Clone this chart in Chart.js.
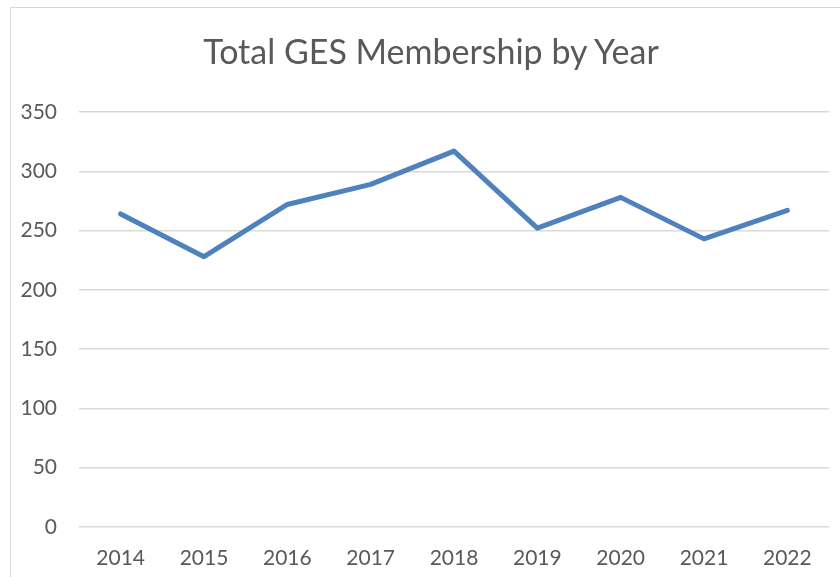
<!DOCTYPE html>
<html>
<head>
<meta charset="utf-8">
<script src="https://cdn.jsdelivr.net/npm/chart.js@4/dist/chart.umd.min.js"></script>
<style>
    html, body { margin: 0; padding: 0; background: #fff; overflow: hidden; }
    #frame {
        position: absolute;
        left: 10px;
        top: 7px;
        width: 900px;
        height: 640px;
        border: 1px solid #d9d9d9;
    }
    #wrap { position: absolute; left: 0; top: 0; width: 840px; height: 577px; }
    #title {
        position: absolute;
        left: 0;
        top: 31px;
        width: 862px;
        text-align: center;
        font-family: Lato, 'Open Sans', sans-serif;
        font-size: 34px;
        line-height: 40px;
        color: #595959;
        white-space: nowrap;
    }
</style>
</head>
<body>
<div id="frame"></div>
<div id="wrap"><canvas id="membershipChart" width="840" height="577"></canvas></div>
<div id="title">Total GES Membership by Year</div>
<script>
const years = ['2014', '2015', '2016', '2017', '2018', '2019', '2020', '2021', '2022'];
const members = [264, 228, 272, 289, 317, 252, 278, 243, 267];
const yTicks = [0, 50, 100, 150, 200, 250, 300, 350];

const textColor = '#595959';
const fontFamily = "Lato, 'Open Sans', sans-serif";

const ctx = document.getElementById('membershipChart').getContext('2d');

new Chart(ctx, {
    type: 'line',
    data: {
        labels: years,
        datasets: [{
            label: 'Total GES Membership',
            data: members,
            borderColor: '#4f81bd',
            backgroundColor: '#4f81bd',
            borderWidth: 5,
            pointRadius: 0,
            tension: 0,
            borderCapStyle: 'round',
            borderJoinStyle: 'round'
        }]
    },
    options: {
        responsive: false,
        animation: false,
        layout: {
            padding: { left: 0, right: 11, top: 112, bottom: 0 }
        },
        plugins: {
            legend: { display: false },
            tooltip: { enabled: false },
            title: { display: false }
        },
        scales: {
            x: {
                offset: true,
                grid: { display: false },
                border: { display: false },
                ticks: {
                    color: textColor,
                    font: { family: fontFamily, size: 21 },
                    padding: 11,
                    maxRotation: 0
                },
                afterFit(scale) {
                    scale.height = 50;
                    scale.paddingLeft = 0;
                    scale.paddingRight = 0;
                }
            },
            y: {
                min: 0,
                max: 350,
                afterBuildTicks(scale) {
                    scale.ticks = yTicks.map(v => ({ value: v }));
                },
                grid: {
                    color: '#d9d9d9',
                    lineWidth: 1.5,
                    drawTicks: false
                },
                border: { display: false },
                ticks: {
                    color: textColor,
                    font: { family: fontFamily, size: 21 },
                    padding: 22
                },
                afterFit(scale) {
                    scale.width = 79;
                    scale.paddingTop = 0;
                    scale.paddingBottom = 0;
                }
            }
        }
    }
});
</script>
</body>
</html>
